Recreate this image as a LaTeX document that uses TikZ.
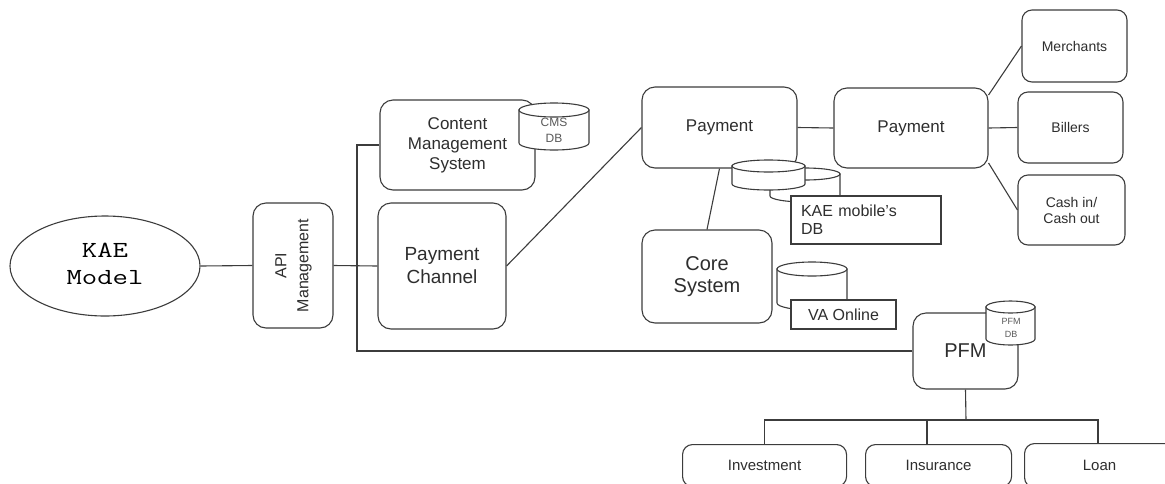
\documentclass[tikz,border=0pt]{standalone}
\usepackage{fontspec}
\usepackage{graphicx}
\setmainfont{Liberation Sans}
\usetikzlibrary{shapes.geometric,calc}

\definecolor{ink}{HTML}{3C3C3C}
\definecolor{txt}{HTML}{2E2E2E}
\newcommand\fz[2]{\fontsize{#1}{#2}\selectfont}
% wide slab-serif lettering for the model name
\newcommand\widemono[1]{\scalebox{1.3}[1]{\ttfamily\fz{23}{27}%
  \begin{tabular}{@{}c@{}}#1\end{tabular}}}

% database drum: left, right, top-centre y, bottom-centre y, end radius
\newcommand\drum[5]{%
  \pgfmathsetmacro\dcx{(#1+#2)/2}%
  \pgfmathsetmacro\drx{(#2-#1)/2}%
  \path[ln, fill=white] (#1,#3) -- (#1,#4)
    arc[start angle=180, end angle=0, x radius=\drx, y radius=#5] -- (#2,#3) -- cycle;
  \draw[ln, fill=white] (\dcx,#3) ellipse[x radius=\drx, y radius=#5];
}

\tikzset{
  ln/.style={draw=ink, line width=1.1pt},
  rbox/.style={ln, fill=white, rounded corners=13pt, inner sep=0pt,
    align=center, text=txt},
  sbox/.style={rbox, rounded corners=10pt},
  plain/.style={ln, fill=white, inner sep=0pt, text=txt},
  dblabel/.style={inner sep=0pt, align=center, text=black!65},
}

\begin{document}
\begin{tikzpicture}[x=1pt, y=-1pt]
\useasboundingbox (0,0) rectangle (1165,483);
\clip (0,0) rectangle (1165,483);

% entry point and gateway
\node[ln, ellipse, fill=white, minimum width=190pt, minimum height=100pt,
  inner sep=0pt, text=black]
  (kae) at (105,266) {\widemono{KAE\\Model}};
\node[rbox, minimum width=80pt, minimum height=125pt, font=\fz{16}{22}]
  (api) at (293,265.5)
  {\rotatebox{90}{\begin{tabular}{@{}c@{}}API\\Management\end{tabular}}};

% channels
\node[rbox, minimum width=155pt, minimum height=90pt, font=\fz{17}{20}]
  (cms) at (457.5,145) {Content\\Management\\System};
\node[rbox, minimum width=128pt, minimum height=126pt, font=\fz{19}{23}]
  (pch) at (442,266) {Payment\\Channel};

% payment services
\node[rbox, minimum width=155pt, minimum height=81pt, font=\fz{17}{20}]
  (pay1) at (719.5,127.5) {Payment};
\node[rbox, minimum width=154pt, minimum height=80pt, font=\fz{17}{20}]
  (pay2) at (911,128) {Payment};
\node[sbox, minimum width=105pt, minimum height=72pt, font=\fz{14}{16}]
  (merch) at (1074.5,46) {Merchants};
\node[sbox, minimum width=105pt, minimum height=71pt, font=\fz{14}{16}]
  (bill) at (1070.5,127.5) {Billers};
\node[sbox, minimum width=107pt, minimum height=70pt, font=\fz{14}{16}]
  (cash) at (1071.5,210) {Cash in/\\Cash out};
\node[rbox, minimum width=130pt, minimum height=93pt, font=\fz{20}{22}]
  (core) at (707,276.5) {Core\\System};

% personal finance
\node[rbox, minimum width=105pt, minimum height=76pt, font=\fz{20}{22}]
  (pfm) at (965.5,351) {PFM};
\node[sbox, anchor=north west, minimum width=164pt, minimum height=42pt,
  font=\fz{15}{17}] (inv) at (682,444) {Investment};
\node[sbox, anchor=north west, minimum width=146pt, minimum height=42pt,
  font=\fz{15}{17}] (ins) at (865,444) {Insurance};
\node[sbox, anchor=north west, minimum width=200pt, minimum height=44pt,
  font=\fz{15}{17}] (loan) at (1024,443) {\hspace*{-50pt}Loan};

% connectors
\coordinate (busB) at (357,351);
\draw[ln] (kae.east) -- (api.west);
\draw[ln] (api.east) -- (pch.west);
\draw[ln] (cms.west) -| (busB) -- (pfm.west);
\draw[ln] (pch.east) -- (pay1.west);
\draw[ln] (pay1.east) -- (pay2.west);
\draw[ln] (pay1.south) -- (core.north);
\draw[ln] ($(pay2.east)+(0,-33)$) -- (merch.west);
\draw[ln] (pay2.east) -- (bill.west);
\draw[ln] ($(pay2.east)+(0,35)$) -- (cash.west);

\coordinate (bus) at (966,420);
\coordinate (insdrop) at (927,420);
\coordinate (loandrop) at (1098,420);
\draw[ln] (pfm.south) -- (bus);
\draw[ln] (inv.north) -- (inv.north |- bus) -- (loandrop) -- (loandrop |- loan.north);
\draw[ln] (insdrop) -- (insdrop |- ins.north);

% data stores
\drum{519}{589}{110}{143}{7}
\node[dblabel, font=\fz{12}{16}] (cmsdb) at (554,130) {CMS\\DB};

\drum{770}{840}{174}{196}{6}
\drum{732}{805}{166}{184}{6}
\node[plain, minimum width=150pt, minimum height=48pt, text width=130pt,
  align=left, font=\fz{16}{18}] (kaedb) at (866,220) {KAE mobile's\\DB};

\drum{777}{847}{269}{303}{7}
\node[plain, minimum width=105pt, minimum height=29pt, font=\fz{16}{18}]
  (vadb) at (843.5,314.5) {VA Online};

\drum{986}{1035}{307}{339}{6}
\node[dblabel, font=\fz{9}{13}] (pfmdb) at (1011,328) {PFM\\DB};
\end{tikzpicture}
\end{document}
